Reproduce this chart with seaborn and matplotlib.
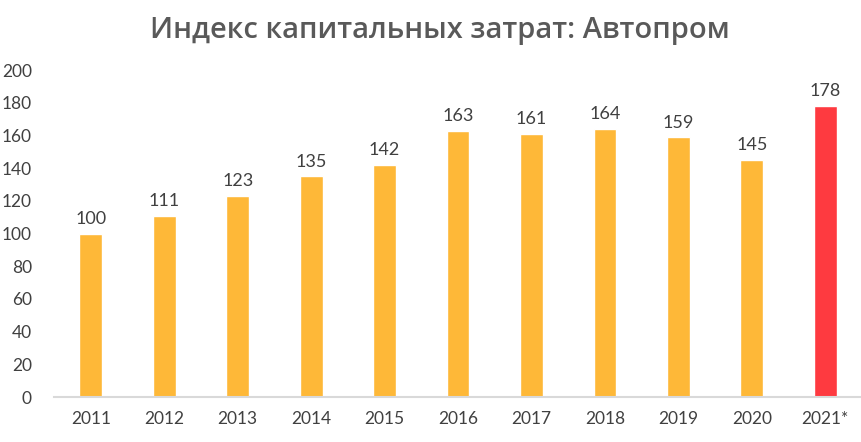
import pandas as pd
import matplotlib.pyplot as plt
import seaborn as sns

# Chart data
years = ["2011", "2012", "2013", "2014", "2015", "2016", "2017", "2018", "2019", "2020", "2021*"]
values = [100, 111, 123, 135, 142, 163, 161, 164, 159, 145, 178]
kind = ["fact"] * 10 + ["forecast"]

df = pd.DataFrame({"year": years, "value": values, "kind": kind})

sns.set_style("white")
plt.rcParams['font.family'] = ['Lato', 'DejaVu Sans']

fig = plt.figure(figsize=(8.62, 4.42), dpi=100)
ax = fig.add_axes([0.0627, 0.1018, 0.9373, 0.7398])

sns.barplot(data=df, x="year", y="value", hue="kind",
            palette={"fact": "#FEB838", "forecast": "#FE3A40"},
            dodge=False, width=0.31, saturation=1, legend=False, ax=ax)

for i, v in enumerate(values):
    ax.text(i, v + 4, str(v), ha="center", va="bottom",
            fontsize=13, color="#404040")

ax.set_ylim(0, 200)
ax.set_xlim(-0.5, len(years) - 0.5)
ax.set_yticks(range(0, 201, 20))
ax.tick_params(axis="both", length=0, labelsize=12.5, labelcolor="#404040")
ax.tick_params(axis="y", pad=16)
ax.tick_params(axis="x", pad=10)
ax.set_xlabel("")
ax.set_ylabel("")
for s in ["top", "right", "left"]:
    ax.spines[s].set_visible(False)
ax.spines["bottom"].set_color("#D9D9D9")
ax.spines["bottom"].set_linewidth(1.5)

fig.text(0.51, 0.93, "Индекс капитальных затрат: Автопром", ha="center", va="center",
         fontsize=21, fontweight="semibold", color="#595959",
         family=["Open Sans", "DejaVu Sans"])

plt.savefig("out.png", dpi=100)
